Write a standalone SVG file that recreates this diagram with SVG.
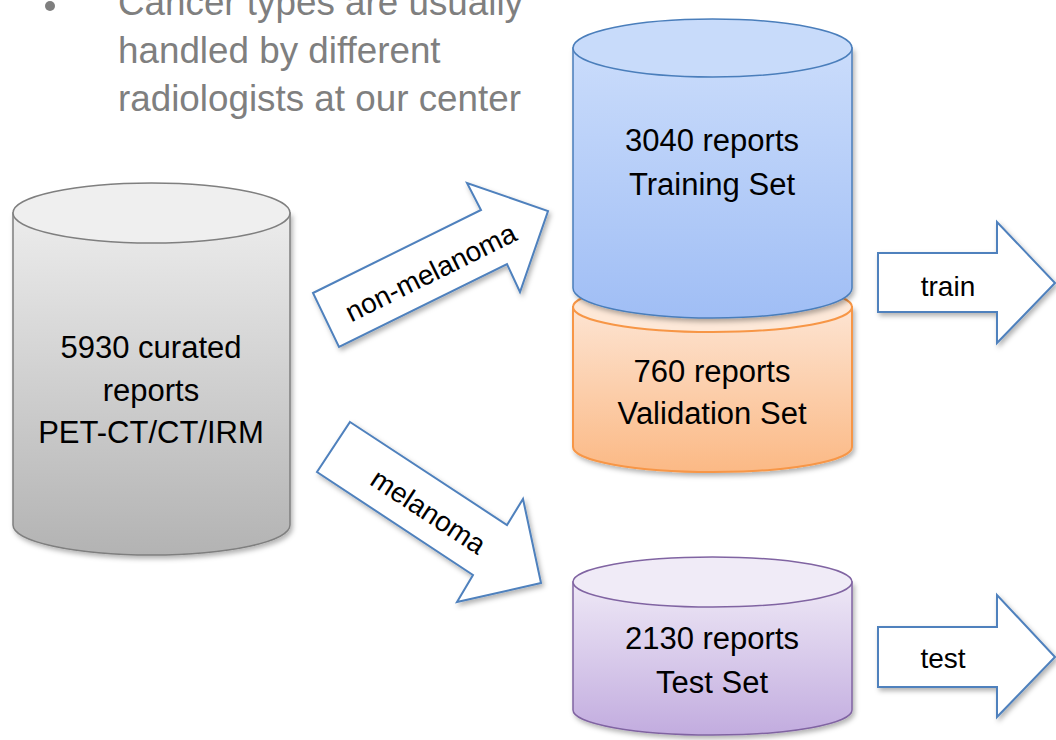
<svg xmlns="http://www.w3.org/2000/svg" width="1056" height="740" viewBox="0 0 1056 740">
<defs>
<linearGradient id="gGray" x1="0" y1="0" x2="0" y2="1"><stop offset="0" stop-color="#ececec"/><stop offset="1" stop-color="#b3b3b3"/></linearGradient>
<linearGradient id="gBlue" x1="0" y1="0" x2="0" y2="1"><stop offset="0" stop-color="#cadcfb"/><stop offset="1" stop-color="#a0bef5"/></linearGradient>
<linearGradient id="gOrange" x1="0" y1="0" x2="0" y2="1"><stop offset="0" stop-color="#fde4d2"/><stop offset="1" stop-color="#fbb985"/></linearGradient>
<linearGradient id="gPurple" x1="0" y1="0" x2="0" y2="1"><stop offset="0" stop-color="#eee8f6"/><stop offset="1" stop-color="#c2acdf"/></linearGradient>
<filter id="sh" x="-10%" y="-10%" width="125%" height="125%">
<feDropShadow dx="2" dy="3" stdDeviation="2.5" flood-color="#000" flood-opacity="0.3"/>
</filter>
</defs>
<style>
.t{font-family:"Liberation Sans",Arial,sans-serif;fill:#000;text-anchor:middle}
.big{font-size:31px}
.lab{font-size:28px}
.bul{font-family:"Liberation Sans",Arial,sans-serif;font-size:36.8px;fill:#7f7f7f}
.arr{fill:#fff;stroke:#4f81bd;stroke-width:2;stroke-linejoin:miter;filter:url(#sh)}
</style>
<rect width="1056" height="740" fill="#fff"/>
<g id="bullet">
<circle cx="50" cy="6" r="5" fill="#7f7f7f"/>
<text class="bul" x="118" y="15">Cancer types are usually</text>
<text class="bul" x="118" y="63">handled by different</text>
<text class="bul" x="118" y="111">radiologists at our center</text>
</g>
<g id="source">
<path d="M13 213 V525 A138.5 30 0 0 0 290 525 V213 Z" fill="url(#gGray)" stroke="#7f7f7f" stroke-width="1.5" filter="url(#sh)"/>
<ellipse cx="151.5" cy="213" rx="138.5" ry="30" fill="#efefef" stroke="#7f7f7f" stroke-width="1.5"/>
<text class="t big" x="151" y="358">5930 curated</text>
<text class="t big" x="151" y="401">reports</text>
<text class="t big" x="151" y="443">PET-CT/CT/IRM</text>
</g>
<g id="validation">
<path d="M573 307 V447 A139.5 25 0 0 0 852 447 V307 Z" fill="url(#gOrange)" stroke="#f79646" stroke-width="2" filter="url(#sh)"/>
<ellipse cx="712.5" cy="307" rx="139.5" ry="25" fill="#fde8d8" stroke="#f79646" stroke-width="2"/>
<text class="t big" x="712" y="382">760 reports</text>
<text class="t big" x="712" y="424">Validation Set</text>
</g>
<g id="training">
<path d="M573 48 V288 A139.5 30 0 0 0 852 288 V48 Z" fill="url(#gBlue)" stroke="#4a7ebb" stroke-width="1.5" filter="url(#sh)"/>
<ellipse cx="712.5" cy="48" rx="139.5" ry="29" fill="#c8dbfa" stroke="#4a7ebb" stroke-width="1.5"/>
<text class="t big" x="712" y="151">3040 reports</text>
<text class="t big" x="712" y="195">Training Set</text>
</g>
<g id="test">
<path d="M573 582 V710 A139.5 25 0 0 0 852 710 V582 Z" fill="url(#gPurple)" stroke="#8064a2" stroke-width="1.5" filter="url(#sh)"/>
<ellipse cx="712.5" cy="582" rx="139.5" ry="25" fill="#f0ebf7" stroke="#8064a2" stroke-width="1.5"/>
<text class="t big" x="712" y="649">2130 reports</text>
<text class="t big" x="712" y="693">Test Set</text>
</g>
<g id="connectors">
<g id="arrow-nonmel">
<polygon class="arr" points="313,293 481,210 467,183 548,211 520,292 507,264 339,347"/>
<text class="t lab" transform="translate(431,273) rotate(-26.3)" y="9">non-melanoma</text>
</g>
<g id="arrow-mel">
<polygon class="arr" points="350,422 507,525 523,499 541,583 457,602 473,575 317,472"/>
<text class="t lab" transform="translate(428,512) rotate(33.3)" y="9">melanoma</text>
</g>
<g id="arrow-train">
<polygon class="arr" points="878,253 997,253 997,222 1055,283 997,343 997,312 878,312"/>
<text class="t lab" x="948" y="296">train</text>
</g>
<g id="arrow-test">
<polygon class="arr" points="878,627 997,627 997,595 1055,657 997,717 997,687 878,687"/>
<text class="t lab" x="943" y="668">test</text>
</g>
</g>
</svg>
